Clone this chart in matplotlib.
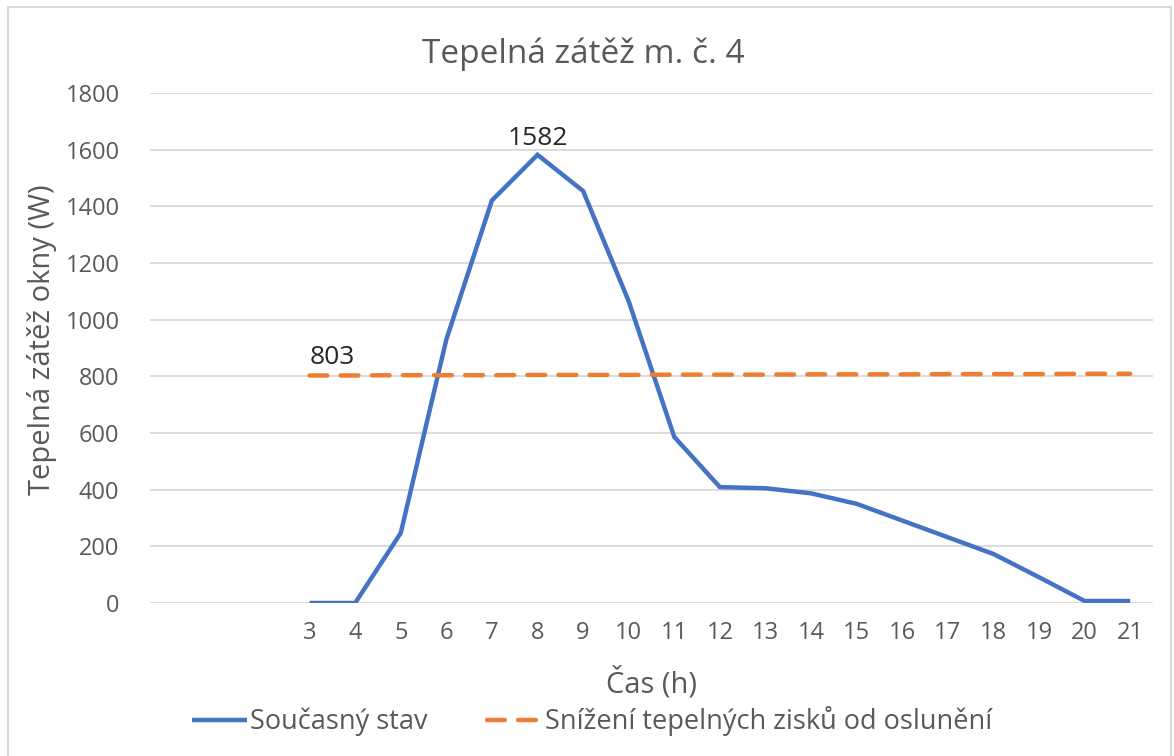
import matplotlib
matplotlib.use("Agg")
import matplotlib.pyplot as plt
from matplotlib.patches import Rectangle

plt.rcParams['font.family'] = ['Open Sans', 'DejaVu Sans']

# hodiny (prvni tri kategorie jsou prazdne)
hodiny = ['', '', '', '3', '4', '5', '6', '7', '8', '9', '10', '11', '12',
          '13', '14', '15', '16', '17', '18', '19', '20', '21']
soucasny_stav = [0, 0, 247, 930, 1421, 1582, 1454, 1065, 586, 409,
                 405, 387, 350, 291, 232, 173, 91, 7, 7]
snizeni = [803, 803, 804, 804, 804, 805, 805, 805, 806, 806,
           806, 807, 807, 807, 808, 808, 808, 809, 809]
y_ticks = [0, 200, 400, 600, 800, 1000, 1200, 1400, 1600, 1800]

W, H = 1174, 756
fig = plt.figure(figsize=(W / 100, H / 100), dpi=100)
ax = fig.add_axes([150 / W, 1 - 603 / H, (1153 - 150) / W, (603 - 93) / H])

x_all = list(range(len(hodiny)))
x_data = x_all[3:]

blue = '#4472C4'
orange = '#ED7D31'
grey = '#595959'

ax.plot(x_data, soucasny_stav, color=blue, lw=3.2, solid_joinstyle='miter',
        solid_capstyle='butt', label='Současný stav', zorder=3)
ax.plot(x_data, snizeni, color=orange, lw=3.2, dashes=(4.0, 3.0),
        dash_capstyle='round', label='Snížení tepelných zisků od oslunění', zorder=3)

ax.annotate('1582', (x_data[5], soucasny_stav[5]), xytext=(0, 3),
            textcoords='offset points', ha='center', va='bottom',
            fontsize=19, color='#262626')
ax.annotate('803', (x_data[0], snizeni[0]), xytext=(0, 4),
            textcoords='offset points', ha='left', va='bottom',
            fontsize=19, color='#262626')

ax.set_xlim(-0.5, len(hodiny) - 0.5)
ax.set_ylim(0, 1800)
ax.set_xticks(x_all)
ax.set_xticklabels(hodiny)
ax.set_yticks(y_ticks)
ax.tick_params(length=0, labelsize=17, colors=grey)
ax.tick_params(axis='y', pad=22)
ax.tick_params(axis='x', pad=13)
ax.grid(axis='y', color='#D9D9D9', lw=1.3)
ax.set_axisbelow(True)
for s in ['top', 'right', 'left', 'bottom']:
    ax.spines[s].set_visible(False)

fig.text(583 / W, 1 - 63 / H, 'Tepelná zátěž m. č. 4', fontsize=24,
         color=grey, ha='center', va='baseline')
ax.set_ylabel('Tepelná zátěž okny (W)', fontsize=21, color=grey)
ax.set_xlabel('Čas (h)', fontsize=21, color=grey)
ax.yaxis.set_label_coords((57 - 150) / 1003, (603 - 340) / 510)
ax.xaxis.set_label_coords(0.5, (603 - 667) / 510)

leg = fig.legend(loc='center', bbox_to_anchor=(592 / W, 1 - 721 / H), ncol=2,
                 frameon=False, fontsize=19.5, handlelength=2.05, handletextpad=0.1,
                 columnspacing=2.2)
for t in leg.get_texts():
    t.set_color(grey)

fig.patches.append(Rectangle((8 / W, -0.01), (1171 - 8) / W, 1 - 7 / H + 0.01,
                             transform=fig.transFigure, fill=False,
                             edgecolor='#D9D9D9', lw=1.5))

fig.savefig('out.png', dpi=100)
